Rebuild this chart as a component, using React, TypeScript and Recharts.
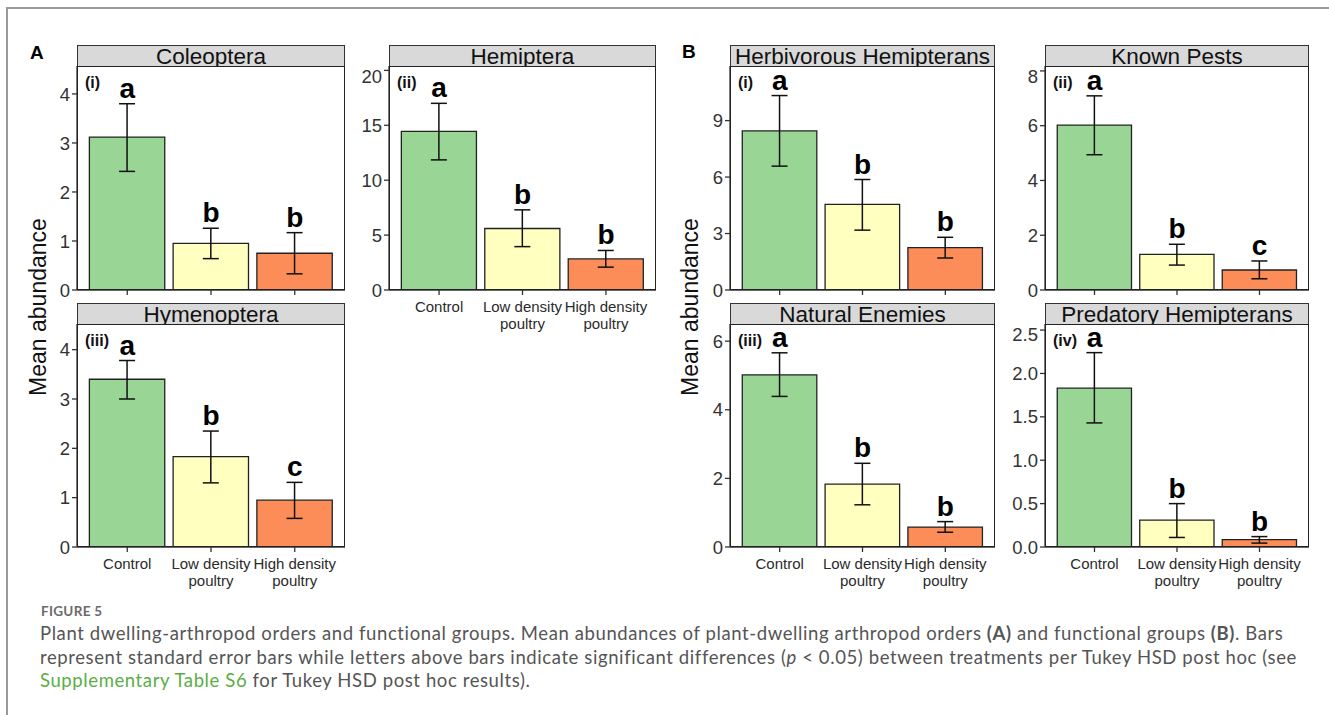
import React from "react";
import {
  ComposedChart,
  Bar,
  Cell,
  ErrorBar,
  Line,
  LabelList,
  XAxis,
  YAxis,
} from "recharts";

const TREATMENTS = ["Control", "Low density\npoultry", "High density\npoultry"];
const BAR_COLORS = ["#99d594", "#ffffbf", "#fc8d59"];

// means, lower / upper ends of the SE bars, and Tukey letters
const COLEOPTERA_MEAN = [3.12, 0.95, 0.75];
const COLEOPTERA_LO = [2.42, 0.64, 0.33];
const COLEOPTERA_HI = [3.8, 1.26, 1.17];
const COLEOPTERA_LETTERS = ["a", "b", "b"];

const HEMIPTERA_MEAN = [14.45, 5.6, 2.83];
const HEMIPTERA_LO = [11.85, 3.95, 2.08];
const HEMIPTERA_HI = [17.0, 7.3, 3.6];
const HEMIPTERA_LETTERS = ["a", "b", "b"];

const HYMENOPTERA_MEAN = [3.4, 1.83, 0.95];
const HYMENOPTERA_LO = [3.0, 1.3, 0.58];
const HYMENOPTERA_HI = [3.78, 2.35, 1.31];
const HYMENOPTERA_LETTERS = ["a", "b", "c"];

const HERBIVOROUS_MEAN = [8.45, 4.55, 2.25];
const HERBIVOROUS_LO = [6.58, 3.18, 1.7];
const HERBIVOROUS_HI = [10.33, 5.87, 2.8];
const HERBIVOROUS_LETTERS = ["a", "b", "b"];

const PESTS_MEAN = [6.02, 1.3, 0.73];
const PESTS_LO = [4.94, 0.91, 0.41];
const PESTS_HI = [7.09, 1.67, 1.06];
const PESTS_LETTERS = ["a", "b", "c"];

const ENEMIES_MEAN = [5.02, 1.83, 0.58];
const ENEMIES_LO = [4.39, 1.23, 0.43];
const ENEMIES_HI = [5.66, 2.44, 0.74];
const ENEMIES_LETTERS = ["a", "b", "b"];

const PREDATORY_MEAN = [1.83, 0.31, 0.085];
const PREDATORY_LO = [1.43, 0.11, 0.045];
const PREDATORY_HI = [2.24, 0.5, 0.12];
const PREDATORY_LETTERS = ["a", "b", "b"];

const PANELS = [
  { title: "Coleoptera", tag: "(i)", mean: COLEOPTERA_MEAN, lo: COLEOPTERA_LO, hi: COLEOPTERA_HI, letters: COLEOPTERA_LETTERS, ticks: [0, 1, 2, 3, 4], max: 4.57, x: 77, y: 66, w: 268, h: 224, xLabels: false },
  { title: "Hemiptera", tag: "(ii)", mean: HEMIPTERA_MEAN, lo: HEMIPTERA_LO, hi: HEMIPTERA_HI, letters: HEMIPTERA_LETTERS, ticks: [0, 5, 10, 15, 20], max: 20.4, x: 389, y: 66, w: 267, h: 224, xLabels: true },
  { title: "Hymenoptera", tag: "(iii)", mean: HYMENOPTERA_MEAN, lo: HYMENOPTERA_LO, hi: HYMENOPTERA_HI, letters: HYMENOPTERA_LETTERS, ticks: [0, 1, 2, 3, 4], max: 4.52, x: 77, y: 324, w: 268, h: 223, xLabels: true },
  { title: "Herbivorous Hemipterans", tag: "(i)", mean: HERBIVOROUS_MEAN, lo: HERBIVOROUS_LO, hi: HERBIVOROUS_HI, letters: HERBIVOROUS_LETTERS, ticks: [0, 3, 6, 9], max: 11.9, x: 730, y: 66, w: 265, h: 224, xLabels: false },
  { title: "Known Pests", tag: "(ii)", mean: PESTS_MEAN, lo: PESTS_LO, hi: PESTS_HI, letters: PESTS_LETTERS, ticks: [0, 2, 4, 6, 8], max: 8.18, x: 1045, y: 66, w: 264, h: 224, xLabels: false },
  { title: "Natural Enemies", tag: "(iii)", mean: ENEMIES_MEAN, lo: ENEMIES_LO, hi: ENEMIES_HI, letters: ENEMIES_LETTERS, ticks: [0, 2, 4, 6], max: 6.5, x: 730, y: 324, w: 265, h: 223, xLabels: true },
  { title: "Predatory Hemipterans", tag: "(iv)", mean: PREDATORY_MEAN, lo: PREDATORY_LO, hi: PREDATORY_HI, letters: PREDATORY_LETTERS, ticks: [0, 0.5, 1, 1.5, 2, 2.5], max: 2.57, x: 1045, y: 324, w: 264, h: 223, xLabels: true, decimals: 1 },
];

const FONT = '"Liberation Sans", Arial, Helvetica, sans-serif';
const YW = 48; // y axis width
const XH = 50; // x axis height
const MR = 14;

const XTick = (props: any) => {
  const { x, y, payload, show } = props;
  if (!show) return null;
  const lines = String(payload.value).split("\n");
  return (
    <g transform={`translate(${x},${y})`}>
      <text textAnchor="middle" fontSize={15} fill="#2b2b2b" fontFamily={FONT}>
        {lines.map((l, i) => (
          <tspan key={i} x={0} dy={i === 0 ? 15 : 16.5}>
            {l}
          </tspan>
        ))}
      </text>
    </g>
  );
};

const LetterLabel = (props: any) => {
  const { x, y, value } = props;
  return (
    <text x={x} y={y - 6} textAnchor="middle" fontSize={28} fontWeight="bold" fill="#000" fontFamily={FONT}>
      {value}
    </text>
  );
};

function Panel({ p }: { p: any }) {
  const data = TREATMENTS.map((t, i) => ({
    name: t,
    mean: p.mean[i],
    err: [p.mean[i] - p.lo[i], p.hi[i] - p.mean[i]],
    top: p.hi[i],
    letter: p.letters[i],
  }));
  const pad = p.w / 32;
  const barSize = (p.w * 0.9) / 3.2;
  const cw = YW + p.w + MR;
  const ch = p.h + XH;

  return (
    <>
      <div
        style={{
          position: "absolute",
          left: p.x,
          top: p.y - 21,
          width: p.w,
          height: 22,
          boxSizing: "border-box",
          background: "#d9d9d9",
          border: "1.3px solid #333",
          overflow: "hidden",
          textAlign: "center",
          fontSize: 22.5,
          lineHeight: "22px",
          color: "#111",
          whiteSpace: "nowrap",
        }}
      >
        {p.title}
      </div>
      <div style={{ position: "absolute", left: p.x - YW, top: p.y, width: cw, height: ch }}>
        <ComposedChart width={cw} height={ch} data={data} margin={{ top: 0, right: MR, bottom: 0, left: 0 }}>
          <XAxis
            dataKey="name"
            height={XH}
            interval={0}
            padding={{ left: pad, right: pad }}
            tickSize={5}
            axisLine={{ stroke: "#333", strokeWidth: 1.3 }}
            tickLine={{ stroke: "#333", strokeWidth: 1.3 }}
            tick={<XTick show={p.xLabels} />}
          />
          <YAxis
            width={YW}
            type="number"
            domain={[0, p.max]}
            ticks={p.ticks}
            allowDataOverflow
            tickSize={5}
            axisLine={{ stroke: "#333", strokeWidth: 1.3 }}
            tickLine={{ stroke: "#333", strokeWidth: 1.3 }}
            tick={{ fontSize: 18.5, fill: "#333", fontFamily: FONT }}
            tickFormatter={(v: number) => (p.decimals ? v.toFixed(p.decimals) : String(v))}
          />
          <Bar dataKey="mean" barSize={barSize} stroke="#222" strokeWidth={1.3} isAnimationActive={false}>
            {data.map((_, i) => (
              <Cell key={i} fill={BAR_COLORS[i]} />
            ))}
            <ErrorBar dataKey="err" width={8} stroke="#111" strokeWidth={1.5} />
          </Bar>
          <Line dataKey="top" stroke="none" dot={false} activeDot={false} legendType="none" isAnimationActive={false}>
            <LabelList dataKey="letter" content={<LetterLabel />} />
          </Line>
        </ComposedChart>
      </div>
      <div
        style={{
          position: "absolute",
          left: p.x,
          top: p.y,
          width: p.w,
          height: p.h,
          boxSizing: "border-box",
          border: "1.3px solid #222",
          pointerEvents: "none",
        }}
      />
      <div
        style={{
          position: "absolute",
          left: p.x + 8,
          top: p.y + 8,
          fontSize: 16,
          fontWeight: "bold",
          color: "#111",
          lineHeight: "18px",
        }}
      >
        {p.tag}
      </div>
    </>
  );
}

const yLabelStyle = (cx: number): React.CSSProperties => ({
  position: "absolute",
  left: cx,
  top: 307,
  transform: "translate(-50%, -50%) rotate(-90deg)",
  fontSize: 23,
  whiteSpace: "nowrap",
  color: "#111",
});

export default function App() {
  return (
    <div
      style={{
        position: "absolute",
        left: 0,
        top: 0,
        width: 1329,
        height: 715,
        background: "#fff",
        overflow: "hidden",
        fontFamily: FONT,
      }}
    >
      <div style={{ position: "absolute", left: 6, top: 7, width: 1323, height: 1.5, background: "#9a9a9a" }} />
      <div style={{ position: "absolute", left: 6, top: 7, width: 1.5, height: 708, background: "#9a9a9a" }} />

      <div style={{ position: "absolute", left: 30, top: 42, fontSize: 19, fontWeight: "bold", lineHeight: "22px" }}>A</div>
      <div style={{ position: "absolute", left: 682, top: 41, fontSize: 19, fontWeight: "bold", lineHeight: "22px" }}>B</div>

      <div style={yLabelStyle(38)}>Mean abundance</div>
      <div style={yLabelStyle(690)}>Mean abundance</div>

      {PANELS.map((p) => (
        <Panel key={p.title} p={p} />
      ))}

      <div
        style={{
          position: "absolute",
          left: 41,
          top: 603,
          fontFamily: "Lato, 'Open Sans', sans-serif",
          fontSize: 13.5,
          fontWeight: "bold",
          color: "#6b6b6b",
          letterSpacing: 0.3,
        }}
      >
        FIGURE 5
      </div>
      <div
        style={{
          position: "absolute",
          left: 40,
          top: 622,
          width: 1280,
          fontFamily: "Lato, 'Open Sans', sans-serif",
          fontSize: 18.5,
          letterSpacing: 0.6,
          lineHeight: "23.5px",
          color: "#555",
          whiteSpace: "nowrap",
        }}
      >
        <div>
          Plant dwelling-arthropod orders and functional groups. Mean abundances of plant-dwelling arthropod orders <b>(A)</b> and functional groups <b>(B)</b>. Bars
        </div>
        <div>
          represent standard error bars while letters above bars indicate significant differences (<i>p</i> &lt; 0.05) between treatments per Tukey HSD post hoc (see
        </div>
        <div>
          <span style={{ color: "#5aae46" }}>Supplementary Table S6</span> for Tukey HSD post hoc results).
        </div>
      </div>
    </div>
  );
}
